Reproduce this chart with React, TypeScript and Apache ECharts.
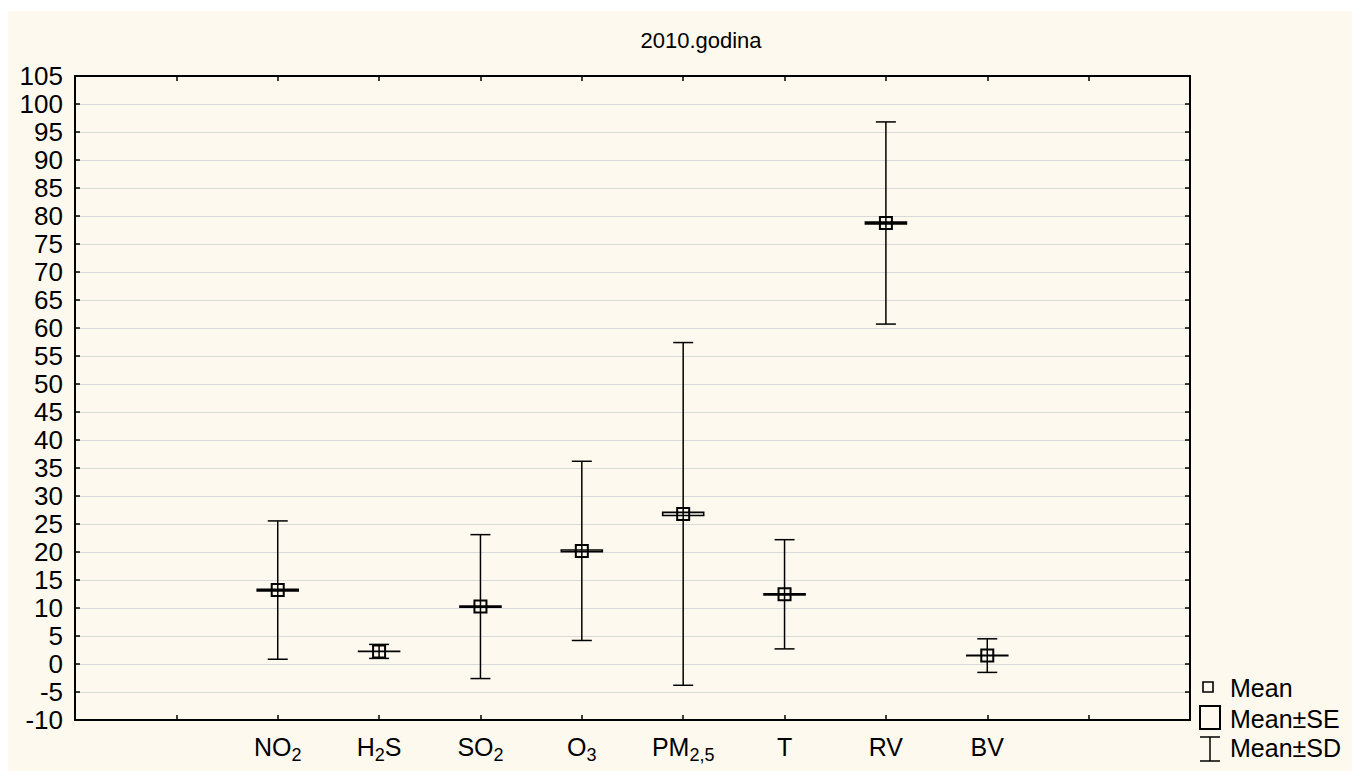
import React, { useEffect, useRef } from 'react';
import * as echarts from 'echarts';

const titleText = '2010.godina';
const categories = ['NO2', 'H2S', 'SO2', 'O3', 'PM2,5', 'T', 'RV', 'BV'];
const means = [13.2, 2.25, 10.25, 20.2, 26.8, 12.45, 78.75, 1.5];
const sds = [12.35, 1.25, 12.85, 16.0, 30.6, 9.75, 18.05, 3.0];
const ses = [0.15, 0.03, 0.1, 0.15, 0.28, 0.1, 0.16, 0.04];
const legendLabels = ['Mean', 'Mean±SE', 'Mean±SD'];

const yMin = -10;
const yMax = 105;
const yStep = 5;
const xMin = 0;
const xMax = 11;

const FONT = '"Liberation Sans", Arial, Helvetica, sans-serif';
const BG = '#fdf9ee';

function toRich(label: string): string {
  return label.replace(/(\d[\d,]*)|([^\d]+)/g, (_m, d, t) => (d ? `{s|${d}}` : `{n|${t}}`));
}

export default function App() {
  const ref = useRef<HTMLDivElement>(null);

  useEffect(() => {
    if (!ref.current) return;
    const chart = echarts.init(ref.current, undefined, { renderer: 'svg' });

    const data = categories.map((_c, i) => [i + 2, means[i], sds[i], ses[i]]);

    const axisLine = { show: true, onZero: false, lineStyle: { color: '#000', width: 2 } };
    const axisTick = { show: true, inside: true, length: 5, lineStyle: { color: '#000', width: 1.5 } };

    const option: any = {
      animation: false,
      backgroundColor: BG,
      grid: { left: 68, top: 65, width: 1115, height: 644, containLabel: false },
      xAxis: [
        {
          type: 'value',
          position: 'bottom',
          min: xMin,
          max: xMax,
          interval: 1,
          axisLine,
          axisTick,
          splitLine: { show: false },
          axisLabel: {
            margin: 12,
            formatter: (v: number) => {
              const i = Math.round(v) - 2;
              return i >= 0 && i < categories.length ? toRich(categories[i]) : '';
            },
            rich: {
              n: { fontSize: 25, fontFamily: FONT, color: '#000', lineHeight: 30, verticalAlign: 'middle' },
              s: { fontSize: 18, fontFamily: FONT, color: '#000', lineHeight: 18, padding: [15, 0, 0, 0], verticalAlign: 'middle' },
            },
          },
        },
        {
          type: 'value',
          position: 'top',
          min: xMin,
          max: xMax,
          interval: 1,
          axisLine,
          axisTick,
          axisLabel: { show: false },
          splitLine: { show: false },
        },
      ],
      yAxis: [
        {
          type: 'value',
          position: 'left',
          min: yMin,
          max: yMax,
          interval: yStep,
          axisLine,
          axisTick,
          axisLabel: { fontSize: 26, fontFamily: FONT, color: '#000', margin: 12 },
          splitLine: { show: true, lineStyle: { color: '#d9d9d9', width: 1 } },
        },
        {
          type: 'value',
          position: 'right',
          min: yMin,
          max: yMax,
          interval: yStep,
          axisLine,
          axisTick,
          axisLabel: { show: false },
          splitLine: { show: false },
        },
      ],
      series: [
        {
          type: 'custom',
          xAxisIndex: 0,
          yAxisIndex: 0,
          data,
          renderItem: (_params: any, api: any) => {
            const x = api.value(0);
            const m = api.value(1);
            const sd = api.value(2);
            const se = api.value(3);
            const pm = api.coord([x, m]);
            const pt = api.coord([x, m + sd]);
            const pb = api.coord([x, m - sd]);
            const st = api.coord([x, m + se]);
            const sb = api.coord([x, m - se]);
            const stroke = { stroke: '#000', lineWidth: 1.5, fill: 'none' };
            const cx = pm[0];
            return {
              type: 'group',
              children: [
                { type: 'line', shape: { x1: cx, y1: pt[1], x2: cx, y2: pb[1] }, style: stroke },
                { type: 'line', shape: { x1: cx - 10, y1: pt[1], x2: cx + 10, y2: pt[1] }, style: stroke },
                { type: 'line', shape: { x1: cx - 10, y1: pb[1], x2: cx + 10, y2: pb[1] }, style: stroke },
                {
                  type: 'rect',
                  shape: { x: cx - 20.5, y: st[1], width: 41, height: Math.max(sb[1] - st[1], 0.01) },
                  style: { stroke: '#000', lineWidth: 1.6, fill: 'none' },
                },
                {
                  type: 'rect',
                  shape: { x: cx - 6, y: pm[1] - 6, width: 12, height: 12 },
                  style: { stroke: '#000', lineWidth: 2, fill: 'none' },
                },
              ],
            };
          },
        },
      ],
      graphic: [
        {
          type: 'text',
          x: 694,
          y: 29,
          style: { text: titleText, font: `22px ${FONT}`, fill: '#000', align: 'center', verticalAlign: 'middle' },
        },
        { type: 'rect', shape: { x: 1196, y: 671, width: 10, height: 10 }, style: { stroke: '#000', lineWidth: 1.6, fill: 'none' } },
        { type: 'rect', shape: { x: 1193, y: 695, width: 20, height: 23 }, style: { stroke: '#000', lineWidth: 2, fill: 'none' } },
        { type: 'line', shape: { x1: 1193, y1: 726, x2: 1213, y2: 726 }, style: { stroke: '#000', lineWidth: 1.5 } },
        { type: 'line', shape: { x1: 1193, y1: 750, x2: 1213, y2: 750 }, style: { stroke: '#000', lineWidth: 1.5 } },
        { type: 'line', shape: { x1: 1203, y1: 726, x2: 1203, y2: 750 }, style: { stroke: '#000', lineWidth: 1.5 } },
        ...legendLabels.map((t, i) => ({
          type: 'text',
          x: 1223,
          y: [677, 708, 737][i],
          style: { text: t, font: `25px ${FONT}`, fill: '#000', align: 'left', verticalAlign: 'middle' },
        })),
      ],
    };

    chart.setOption(option);
    return () => chart.dispose();
  }, []);

  return (
    <div
      ref={ref}
      style={{ position: 'relative', left: -1, top: 3, width: 1353, height: 763, background: BG }}
    />
  );
}
